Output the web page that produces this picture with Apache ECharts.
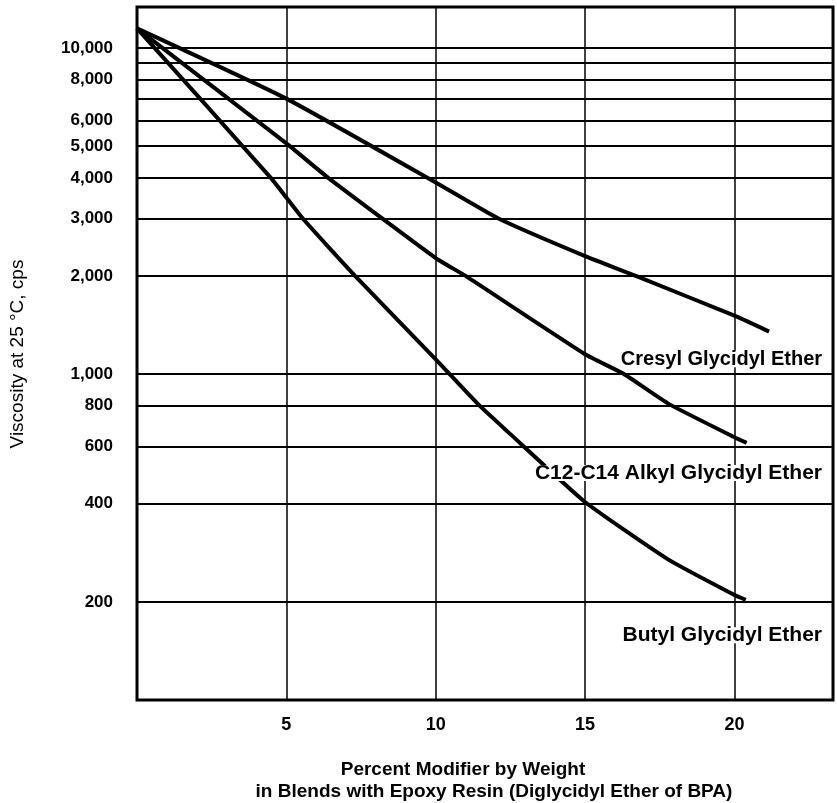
<!DOCTYPE html>
<html><head><meta charset="utf-8">
<script src="https://cdn.jsdelivr.net/npm/echarts@6/dist/echarts.min.js"></script>
<style>html,body{margin:0;padding:0;background:#fff}#c{width:837px;height:803px}</style>
</head><body><div id="c"></div>
<script>
// ---- data ----
const percentCresyl = [0, 5, 10, 12.1, 15, 16.7, 20, 21.16];
const viscCresyl    = [11500, 7000, 3870, 3000, 2300, 2000, 1510, 1350];
const percentAlkyl  = [0, 5, 6.4, 10, 11, 15, 16.3, 17.8, 20, 20.41];
const viscAlkyl     = [11500, 5100, 4000, 2270, 2000, 1150, 1000, 810, 640, 615];
const percentButyl  = [0, 4.48, 5.55, 7.3, 10, 11.47, 12.4, 15, 17.75, 20, 20.38];
const viscButyl     = [11500, 4000, 3000, 2000, 1110, 800, 667, 405, 271, 210, 203];
const seriesNames   = ['Cresyl Glycidyl Ether', 'C12-C14 Alkyl Glycidyl Ether', 'Butyl Glycidyl Ether'];
const labelAnchorX  = [23.0, 23.0, 23.0];
const labelAnchorY  = [1110, 497, 158];
const labelSizes    = [20, 21, 21];
const xTickValues   = [0, 5, 10, 15, 20];
const xTickLabels   = ['', '5', '10', '15', '20'];
const yGridValues   = [200, 400, 600, 800, 1000, 2000, 3000, 4000, 5000, 6000, 7000, 8000, 9000, 10000];
const yGridLabels   = ['200', '400', '600', '800', '1,000', '2,000', '3,000', '4,000', '5,000', '6,000', '', '8,000', '', '10,000'];
const xTitle1 = 'Percent Modifier by Weight';
const xTitle2 = 'in Blends with Epoxy Resin (Diglycidyl Ether of BPA)';
const yTitle  = 'Viscosity at 25 °C, cps';

const FONT = '"Liberation Sans", Arial, Helvetica, sans-serif';
const zip = (xs, ys) => xs.map((x, i) => [x, ys[i]]);

const chart = echarts.init(document.getElementById('c'), null, {renderer: 'canvas'});
const curveStyle = {color: '#000', width: 4};
const curve = (name, xs, ys) => ({
  name, type: 'line', data: zip(xs, ys), showSymbol: false, symbol: 'none',
  smooth: 0.15, lineStyle: curveStyle, itemStyle: {color: '#000'},
  z: 3, silent: true, animation: false
});

chart.setOption({
  animation: false,
  backgroundColor: '#fff',
  grid: {left: 137, right: 4, top: 7, bottom: 103, show: true, borderColor: '#000', borderWidth: 3, backgroundColor: 'transparent'},
  xAxis: {
    type: 'value', min: 0, max: 23.3, interval: 5,
    axisLine: {show: false}, axisTick: {show: false},
    splitLine: {show: true, lineStyle: {color: '#000', width: 1.5}},
    axisLabel: {
      margin: 16, color: '#000', fontSize: 18, fontWeight: 'bold', fontFamily: FONT,
      formatter: v => { const i = xTickValues.indexOf(v); return i >= 0 ? xTickLabels[i] : ''; }
    }
  },
  yAxis: {
    type: 'log', logBase: 10, min: 100, max: 13370,
    axisLine: {show: false}, axisTick: {show: false}, axisLabel: {show: false},
    splitLine: {show: false}, minorSplitLine: {show: false}
  },
  series: [
    {
      type: 'line', data: [], z: 1, silent: true,
      markLine: {
        silent: true, animation: false, symbol: ['none', 'none'],
        lineStyle: {color: '#000', width: 2, type: 'solid'},
        label: {position: 'start', distance: 24, color: '#000', fontSize: 17, fontWeight: 'bold', fontFamily: FONT},
        data: yGridValues.map((v, i) => ({
          yAxis: v,
          label: {show: yGridLabels[i] !== '', formatter: yGridLabels[i]}
        }))
      }
    },
    curve(seriesNames[0], percentCresyl, viscCresyl),
    curve(seriesNames[1], percentAlkyl, viscAlkyl),
    curve(seriesNames[2], percentButyl, viscButyl),
    {
      type: 'scatter', data: [], z: 5, silent: true,
      markPoint: {
        silent: true, animation: false,
        data: seriesNames.map((n, i) => ({
          coord: [labelAnchorX[i], labelAnchorY[i]], symbol: 'rect', symbolSize: 0.01,
          itemStyle: {color: 'rgba(0,0,0,0)'},
          label: {show: true, position: 'left', distance: 0, formatter: n, color: '#000',
                  fontSize: labelSizes[i], lineHeight: 16, fontWeight: 'bold', fontFamily: FONT,
                  backgroundColor: '#fff', padding: [0, 2]}
        }))
      }
    }
  ],
  graphic: [
    {type: 'text', x: 18, y: 354, rotation: Math.PI / 2,
     style: {text: yTitle, font: '19px ' + FONT, fill: '#000', align: 'center', verticalAlign: 'middle'}},
    {type: 'text', x: 463, y: 770,
     style: {text: xTitle1, font: 'bold 19px ' + FONT, fill: '#000', align: 'center', verticalAlign: 'middle'}},
    {type: 'text', x: 494, y: 792,
     style: {text: xTitle2, font: 'bold 19px ' + FONT, fill: '#000', align: 'center', verticalAlign: 'middle'}}
  ]
});
</script>
</body></html>
